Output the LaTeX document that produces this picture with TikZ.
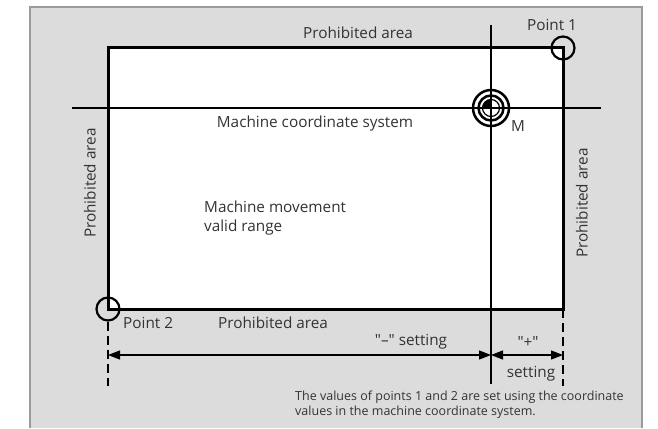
\documentclass[tikz,border=0pt]{standalone}
\usepackage{fontspec}
\setmainfont{Open Sans}
\usetikzlibrary{arrows.meta}
\definecolor{panelgray}{HTML}{DCDCDC}
\definecolor{edgegray}{HTML}{9A9A9A}
\definecolor{txt}{HTML}{333333}
\begin{document}
\begin{tikzpicture}[x=1pt,y=-1pt]
            \tikzset{
	lbl/.style={text=txt,font=\fontsize{15.3}{18.5}\selectfont,inner sep=0pt},
	note/.style={text=txt,font=\fontsize{12.5}{14.5}\selectfont,inner sep=0pt,align=left},
	frame/.style={draw,fill=white,line width=3pt},
	axis/.style={line width=1.2pt},
	ptmark/.style={circle,draw,line width=2.2pt,minimum size=23pt,inner sep=0pt},
	ext/.style={dash pattern=on 9pt off 5pt,line width=1.2pt},
	dim/.style={line width=1.2pt,{Triangle[length=12pt,width=9pt]}-{Triangle[length=12pt,width=9pt]}}
}
\useasboundingbox (0,0) rectangle (658,428);

% panel
\fill[panelgray] (30,7) rectangle (642,428);
\draw[edgegray,line width=1.2pt] (30,428) -- (30,7) -- (642,7) -- (642,428);

% valid range
\draw[frame] (108,48) rectangle (563,309);
\coordinate (m) at (491,108);

% M symbol
\draw[line width=2.5pt] (m) circle[radius=18];
\draw[line width=2.5pt] (m) circle[radius=12.5];
\draw[line width=1.2pt] (m) circle[radius=8.5];
\fill (m) -- ++(-8.5,0) arc[start angle=180,end angle=270,radius=8.5] -- cycle;

% axes
\coordinate (hl) at (72,108);
\coordinate (hr) at (601,108);
\coordinate (vt) at (491,25);
\coordinate (vb) at (491,384);
\draw[axis] (hl) -- (hr);
\draw[axis] (vt) -- (vb);

% points 1 and 2
\node[ptmark] (p1) at (563,48) {};
\node[ptmark] (p2) at (108,309) {};
\node[lbl] (p1t) at (552,25) {Point 1};
\node[lbl,anchor=west] (p2t) at (123,323) {Point 2};

% dimensions
\coordinate (dl) at (108,355);
\coordinate (dm) at (491,355);
\coordinate (dr) at (563,355);
\coordinate (el) at (108,386);
\coordinate (er) at (563,386);
\draw[ext] (p2.south) -- (el);
\draw[ext] (563,309) -- (er);
\draw[dim] (dl) -- (dm);
\draw[dim] (dm) -- (dr);
\node[lbl] (minus) at (411,342) {\textquotedbl–\textquotedbl{} setting};
\node[lbl] (plus) at (528,342) {\textquotedbl+\textquotedbl};
\node[lbl] (plusset) at (531,374) {setting};

% areas
\node[lbl] (top) at (358,33) {Prohibited area};
\node[lbl] (bot) at (273,323) {Prohibited area};
\node[lbl,rotate=90] (left) at (90,183) {Prohibited area};
\node[lbl,rotate=90] (right) at (582,203) {Prohibited area};
\node[lbl] (mcs) at (315,124) {Machine coordinate system};
\node[lbl] (mlab) at (518,126) {M};
\node[lbl,align=left,anchor=west] (valid) at (204,218) {Machine movement\\valid range};

% note
\node[note,anchor=north west] (foot) at (295,391) {The values of points 1 and 2 are set using the coordinate\\values in the machine coordinate system.};
        \end{tikzpicture}
\end{document}
